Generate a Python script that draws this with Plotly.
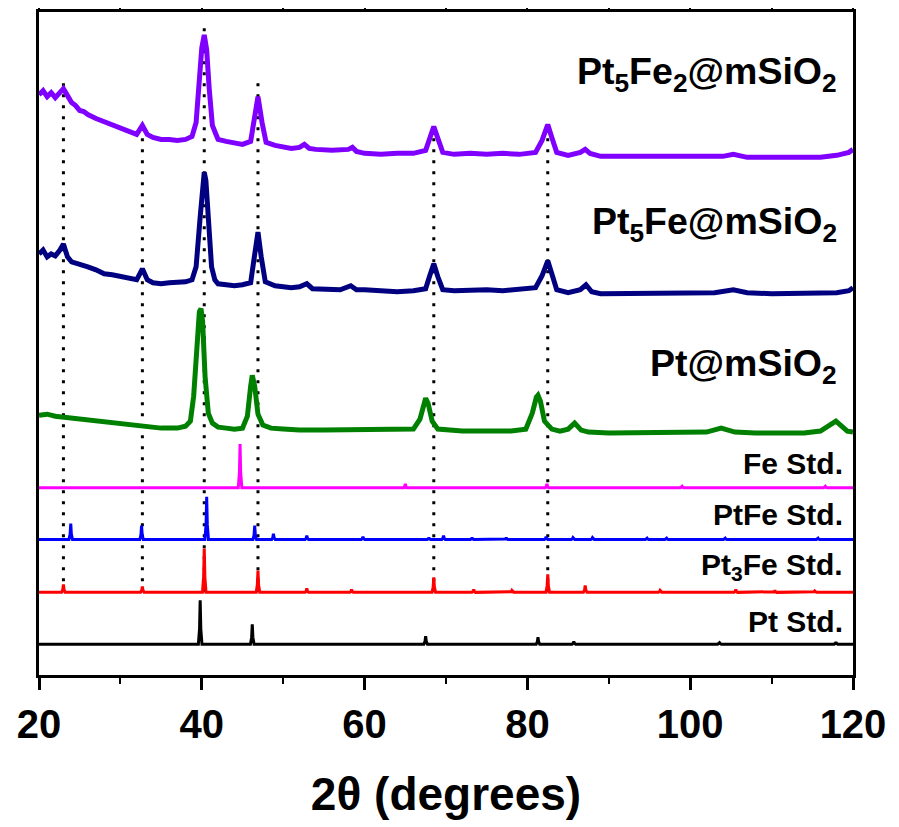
import plotly.graph_objects as go

# ---------------- data (y in stacked-offset units) ----------------
# Pt5Fe2@mSiO2 (purple)
pt5fe2_x = [20, 20.5, 21, 21.5, 22, 22.5, 23.0, 23.5, 24, 24.5, 25, 25.5, 26, 27, 28, 29, 30, 31, 32, 32.7, 33.3, 34, 35, 36, 37, 38,
            38.8, 39.3, 39.7, 40.0, 40.3, 40.6, 40.9, 41.3, 41.8, 42, 43, 44, 45, 46, 46.4, 46.9, 47.4, 47.9, 49, 50, 51,
            52, 52.6, 53.2, 54, 56, 58, 58.5, 59, 60, 62, 64, 66, 67.5, 68.0, 68.5, 69.0, 69.6, 71, 73, 75, 77, 79, 81,
            81.8, 82.5, 83.0, 83.6, 85, 86.5, 87.1, 87.7, 89, 92, 95, 98, 101, 104, 105.3, 107, 110, 113, 116, 118, 119.5, 120]
pt5fe2_y = [583, 587, 581, 585, 580, 585, 589, 582, 575, 572, 567, 566, 563, 559, 556, 552, 549, 546, 543, 552, 543, 540, 538, 538, 537, 538,
            541, 555, 600, 630, 643, 628, 590, 552, 542, 538, 536, 534, 533, 536, 557, 581, 555, 535, 532, 530, 529,
            530, 533, 529, 528, 527, 528, 530, 526, 524, 523, 524, 524, 527, 540, 551, 539, 525, 523, 524, 523, 524, 523, 525,
            537, 553, 540, 525, 522, 525, 528, 524, 521, 521, 520, 521, 520, 521, 523, 520, 520, 520, 520, 522, 525, 528]

# Pt5Fe@mSiO2 (navy)
pt5fe_x = [20, 20.5, 21, 21.5, 22, 22.5, 23.0, 23.5, 24, 25, 26, 27, 28, 29, 30, 31, 32, 32.7, 33.3, 34, 35, 36, 37, 38,
           38.8, 39.3, 39.8, 40.1, 40.3, 40.5, 40.8, 41.2, 41.6, 42, 43, 44, 45, 46, 46.4, 46.9, 47.3, 47.8, 49, 50, 51,
           52, 52.9, 53.6, 55, 57, 58.3, 59, 60, 62, 64, 66, 67.5, 68.0, 68.5, 69.0, 69.6, 71, 73, 75, 77, 79, 81,
           81.8, 82.5, 83.0, 83.6, 85, 86.5, 87.2, 87.9, 89, 92, 95, 98, 101, 103, 105.3, 107, 110, 113, 116, 118, 119.5, 120]
pt5fe_y = [423, 427, 420, 423, 421, 426, 433, 420, 415, 413, 410, 407, 403, 402, 400, 398, 397, 408, 397, 394, 393, 394, 394, 395,
           397, 410, 460, 495, 505, 497, 460, 410, 397, 393, 392, 391, 392, 394, 417, 445, 420, 395, 391, 390, 389,
           390, 393, 388, 388, 387, 391, 387, 387, 386, 385, 386, 388, 401, 413, 400, 387, 386, 387, 387, 386, 387, 389,
           401, 416, 403, 387, 384, 387, 392, 385, 383, 383, 383, 384, 383, 384, 387, 384, 383, 383, 383, 384, 386, 389]

# Pt@mSiO2 (green)
pt_x = [20, 21, 22, 23, 24, 25, 26, 27, 28, 29, 30, 31, 32, 33, 34, 35, 36, 37, 38, 38.6, 39.0, 39.4, 39.7, 39.9, 40.1,
        40.4, 40.8, 41.3, 42, 43, 44, 45, 45.6, 46.0, 46.2, 46.5, 46.9, 47.5, 48.5, 50, 52, 55, 58, 60, 62, 64, 66,
        66.8, 67.3, 67.5, 67.8, 68.3, 69, 70, 72, 74, 76, 78, 79.8, 80.6, 81.1, 81.3, 81.6, 82.1, 83, 84, 85, 85.8,
        86.6, 87.5, 90, 93, 96, 99, 102, 103.8, 105.5, 108, 111, 114, 116, 117.2, 117.9, 118.6, 119.3, 120]
pt_y = [261, 262, 260, 259, 258, 257, 256, 255, 254, 253, 252, 251, 250, 250, 249, 248, 248, 248, 250, 255, 280, 335, 365, 368, 355,
        300, 263, 253, 249, 248, 247, 248, 260, 290, 301, 290, 262, 251, 248, 247, 246, 246, 246, 246, 246, 246, 247,
        257, 275, 278, 273, 255, 247, 246, 245, 245, 245, 245, 247, 263, 279, 281, 275, 255, 247, 245, 247, 253,
        246, 244, 243, 243, 243, 243, 244, 248, 244, 243, 243, 243, 245, 251, 255, 250, 245, 244]

# Standard patterns: baseline, peak positions (2θ) and peak heights
fe_base = 188
fe_pos = [44.7, 65.0, 82.4, 99.0, 116.6]
fe_h = [44, 4, 4, 1.5, 1.5]

ptfe_base = 136
ptfe_pos = [23.9, 32.6, 40.6, 46.5, 48.8, 52.9, 59.8, 67.9, 69.7, 73.2, 77.4, 82.3, 85.6, 88.0, 94.7, 97.1, 104.3, 115.7]
ptfe_h = [16, 14, 43, 14, 6, 4, 3, 2, 4, 2, 2, 3, 2, 2, 1.5, 1.5, 1.5, 1.5]

pt3fe_base = 83
pt3fe_pos = [23.0, 32.7, 40.3, 46.9, 52.9, 58.4, 68.5, 73.4, 78.1, 82.5, 87.1, 96.3, 105.6, 110.4, 115.3]
pt3fe_h = [8, 6, 44, 22, 4, 3, 15, 3, 2, 18, 7, 2, 3, 2, 1.5]

ptstd_base = 31
ptstd_pos = [39.8, 46.2, 67.5, 81.3, 85.7, 103.6, 117.9]
ptstd_h = [44, 20, 8, 7, 2.5, 1.5, 2]

# Reference lines (dotted) at Pt3Fe reflections
ref_pos = [23.0, 32.7, 40.3, 46.9, 68.5, 82.5]
ref_top = [602, 558, 653, 599, 558, 558]

labels = ["Pt<sub>5</sub>Fe<sub>2</sub>@mSiO<sub>2</sub>", "Pt<sub>5</sub>Fe@mSiO<sub>2</sub>", "Pt@mSiO<sub>2</sub>",
          "Fe Std.", "PtFe Std.", "Pt<sub>3</sub>Fe Std.", "Pt Std."]
label_y = [604, 453, 310, 212, 161, 109, 54]


def stick(base, pos, h, w=0.22):
    xs, ys = [20], [base]
    for p, hh in zip(pos, h):
        xs += [p - w, p - w * 0.35, p, p + w * 0.35, p + w]
        ys += [base, base + hh * 0.35, base + hh, base + hh * 0.35, base]
    xs.append(120)
    ys.append(base)
    return xs, ys


fig = go.Figure()

for xp, yt in zip(ref_pos, ref_top):
    fig.add_trace(go.Scatter(x=[xp, xp], y=[pt3fe_base, yt], mode="lines",
                             line=dict(color="black", width=3, dash="3px,8px"), showlegend=False, hoverinfo="skip"))

for (b, p, h, c) in [(ptstd_base, ptstd_pos, ptstd_h, "#000000"),
                     (pt3fe_base, pt3fe_pos, pt3fe_h, "#FF0000"),
                     (ptfe_base, ptfe_pos, ptfe_h, "#0000FF"),
                     (fe_base, fe_pos, fe_h, "#FF00FF")]:
    xs, ys = stick(b, p, h)
    fig.add_trace(go.Scatter(x=xs, y=ys, mode="lines", line=dict(color=c, width=3), showlegend=False))

for xs, ys, c in [(pt_x, pt_y, "#008000"), (pt5fe_x, pt5fe_y, "#000080"), (pt5fe2_x, pt5fe2_y, "#7F00FF")]:
    fig.add_trace(go.Scatter(x=xs, y=ys, mode="lines", line=dict(color=c, width=5), showlegend=False))

for i, (t, yy) in enumerate(zip(labels, label_y)):
    big = i < 3
    fig.add_annotation(x=118.3 if big else 119.0, y=yy, text=t, showarrow=False, xanchor="right", yanchor="middle",
                       font=dict(family="Liberation Sans, Arial", size=37.5 if big else 30, color="black", weight="bold"))

axis_font = dict(family="Liberation Sans Narrow, Liberation Sans, Arial", size=40, color="black", weight="bold")
title_font = dict(family="Liberation Sans Narrow, Liberation Sans, Arial", size=46, color="black", weight="bold")
fig.update_layout(
    width=899, height=827, margin=dict(l=39, r=46, t=9, b=152),
    plot_bgcolor="white", paper_bgcolor="white",
    xaxis=dict(range=[20, 120], dtick=20, tick0=20, showline=True, linecolor="black", linewidth=2.5, mirror=True,
               ticks="outside", ticklen=12, tickwidth=2.5, tickcolor="black", showgrid=False, zeroline=False,
               tickfont=axis_font,
               minor=dict(dtick=10, ticks="outside", ticklen=6, tickwidth=2, tickcolor="black", showgrid=False),
               title=dict(text="2θ (degrees)", font=title_font, standoff=34)),
    xaxis2=dict(range=[20, 120], overlaying="x", side="top", dtick=10, ticks="outside", ticklen=3, tickwidth=1.5,
                tickcolor="black", showticklabels=False, showgrid=False, zeroline=False),
    yaxis=dict(range=[0, 666], showline=True, linecolor="black", linewidth=2.5, mirror=True, showticklabels=False,
               ticks="", showgrid=False, zeroline=False),
)
fig.add_trace(go.Scatter(x=[20, 120], y=[None, None], xaxis="x2", showlegend=False, hoverinfo="skip"))

fig.write_html("out.html")
